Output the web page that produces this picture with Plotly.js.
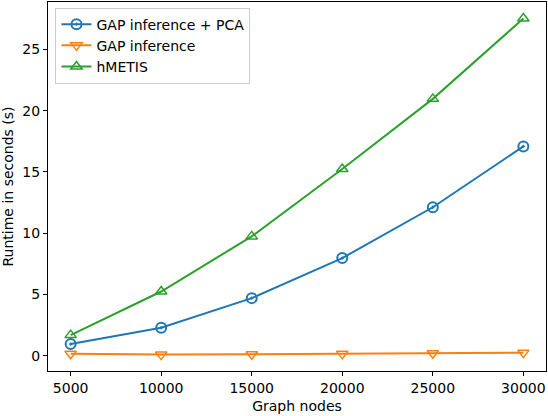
<!DOCTYPE html>
<html>
<head>
<meta charset="utf-8">
<script src="https://cdn.plot.ly/plotly-3.0.1.min.js"></script>
<style>html,body{margin:0;padding:0;background:#fff;}#chart{width:548px;height:416px;}</style>
</head>
<body>
<div id="chart"></div>
<script>
var graphNodes = [5000, 10000, 15000, 20000, 25000, 30000];
var gapPca = [0.95, 2.28, 4.70, 7.97, 12.12, 17.09];
var gapInference = [0.16, 0.09, 0.12, 0.15, 0.20, 0.25];
var hmetis = [1.68, 5.24, 9.74, 15.25, 20.97, 27.53];
var seriesNames = ['GAP inference + PCA', 'GAP inference', 'hMETIS'];
var xTicks = [5000, 10000, 15000, 20000, 25000, 30000];
var yTicks = [0, 5, 10, 15, 20, 25];

var font = {family: 'DejaVu Sans, sans-serif', size: 14, color: '#000'};

function trace(y, name, color, symbol, lw) {
  return {
    x: graphNodes, y: y, name: name, type: 'scatter', mode: 'lines+markers',
    line: {color: color, width: 2},
    marker: {symbol: symbol, size: 10, color: color, line: {color: color, width: lw}}
  };
}

var data = [
  trace(gapPca, seriesNames[0], '#1f77b4', 'circle-open-dot', 2),
  trace(gapInference, seriesNames[1], '#ff7f0e', 'triangle-down-open', 1.5),
  trace(hmetis, seriesNames[2], '#2ca02c', 'triangle-up-open', 1.5)
];

var axisCommon = {
  showline: true, mirror: true, linecolor: '#000', linewidth: 1,
  showgrid: false, zeroline: false, ticks: 'outside', ticklen: 4,
  tickwidth: 1, tickcolor: '#000', tickfont: font
};

var layout = {
  width: 548, height: 416,
  margin: {l: 48, r: 2, t: 2, b: 45},
  paper_bgcolor: '#fff', plot_bgcolor: '#fff',
  font: font,
  showlegend: true,
  legend: {
    x: 0.015, y: 0.985, xanchor: 'left', yanchor: 'top',
    bgcolor: 'rgba(255,255,255,0.8)', bordercolor: '#cccccc', borderwidth: 1,
    font: font, tracegroupgap: 0
  },
  xaxis: Object.assign({}, axisCommon, {
    range: [3750, 31250], tickvals: xTicks, ticktext: xTicks.map(String),
    title: {text: 'Graph nodes', font: font, standoff: 6}
  }),
  yaxis: Object.assign({}, axisCommon, {
    range: [-1.25, 28.88], tickvals: yTicks, ticktext: yTicks.map(String),
    title: {text: 'Runtime in seconds (s)', font: font, standoff: 6}
  })
};

Plotly.newPlot('chart', data, layout, {staticPlot: true, displayModeBar: false});
</script>
</body>
</html>
